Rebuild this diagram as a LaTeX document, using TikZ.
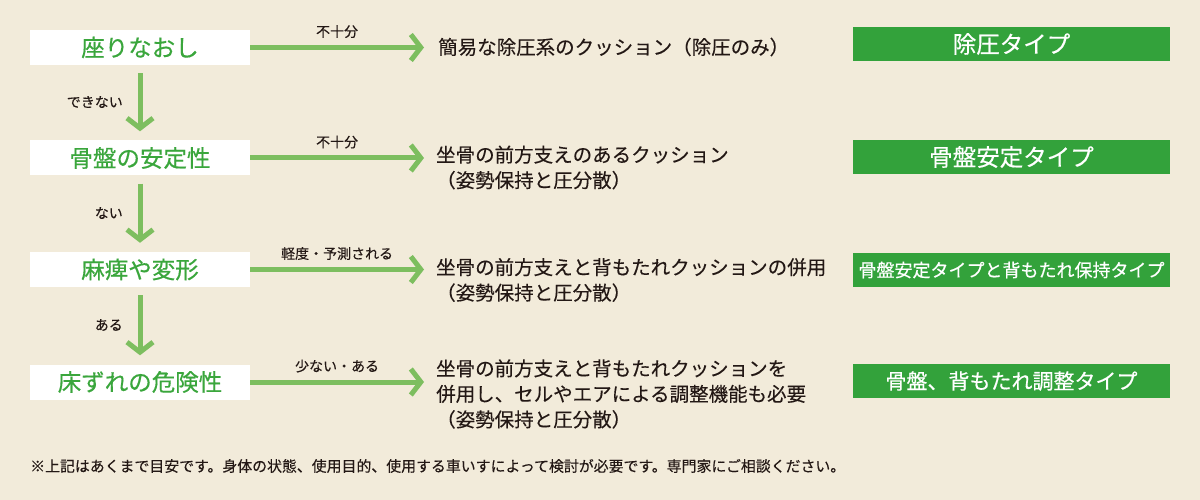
\documentclass[tikz,border=0pt]{standalone}
\usepackage{fontspec}
\setmainfont{Noto Sans CJK JP}
\newfontfamily\medfont{Noto Sans CJK JP}[UprightFeatures={FakeBold=0.5}]
\newfontfamily\semifont{Noto Sans CJK JP}[UprightFeatures={FakeBold=0.2}]
\usetikzlibrary{arrows.meta}
\definecolor{bg}{RGB}{242,235,218}
\definecolor{arrowgreen}{RGB}{125,190,95}
\definecolor{labelgreen}{RGB}{58,166,60}
\definecolor{boxgreen}{RGB}{51,162,59}
\definecolor{ink}{RGB}{35,24,21}
\tikzset{
  leftbox/.style={fill=white, minimum width=220pt, minimum height=35pt, inner sep=0pt,
    text=labelgreen, font=\medfont\fontsize{23.5}{26}\selectfont},
  typebox/.style={fill=boxgreen, minimum width=317pt, minimum height=34pt, inner sep=0pt,
    text=white, font=\medfont\fontsize{23.5}{26}\selectfont},
  midtext/.style={anchor=west, align=left, inner sep=0pt, text=ink,
    font=\semifont\fontsize{19.5}{25.5}\selectfont},
  arrlabel/.style={inner sep=0pt, text=ink, font=\semifont\fontsize{14}{16}\selectfont},
  flow/.style={draw=arrowgreen, line width=5pt,
    -{Straight Barb[length=10pt, width=26pt, line width=5pt]}},
}
\begin{document}
\begin{tikzpicture}[x=1pt, y=-1pt]
\fill[bg] (0,0) rectangle (1200,500);
\useasboundingbox (0,0) rectangle (1200,500);

% left boxes
\node[leftbox] (b1) at (140,47.5) {座りなおし};
\node[leftbox] (b2) at (140,158) {骨盤の安定性};
\node[leftbox] (b3) at (140,269.5) {麻痺や変形};
\node[leftbox] (b4) at (140,382) {床ずれの危険性};

% right type boxes
\node[typebox] (r1) at (1011.5,44) {除圧タイプ};
\node[typebox] (r2) at (1011.5,157) {骨盤安定タイプ};
\node[typebox, font=\medfont\fontsize{18}{20}\selectfont] (r3) at (1011.5,270) {骨盤安定タイプと背もたれ保持タイプ};
\node[typebox, font=\medfont\fontsize{21}{24}\selectfont] (r4) at (1011.5,381) {骨盤、背もたれ調整タイプ};

% middle texts
\node[midtext] (m1) at (438,47) {簡易な除圧系のクッション（除圧のみ）};
\node[midtext] (m2) at (436,167.5) {坐骨の前方支えのあるクッション\\（姿勢保持と圧分散）};
\node[midtext] (m3) at (436,280) {坐骨の前方支えと背もたれクッションの併用\\（姿勢保持と圧分散）};
\node[midtext] (m4) at (436,394) {坐骨の前方支えと背もたれクッションを\\併用し、セルやエアによる調整機能も必要\\（姿勢保持と圧分散）};

% arrow end points
\coordinate (e1) at (424,47.5);
\coordinate (e2) at (424,158);
\coordinate (e3) at (424,269.5);
\coordinate (e4) at (424,382);

% horizontal arrows
\draw[flow] (b1.east) -- node[arrlabel, above=7pt] (l1) {不十分} (e1);
\draw[flow] (b2.east) -- node[arrlabel, above=7pt] (l2) {不十分} (e2);
\draw[flow] (b3.east) -- node[arrlabel, above=7pt] (l3) {軽度・予測される} (e3);
\draw[flow] (b4.east) -- node[arrlabel, above=7pt] (l4) {少ない・ある} (e4);

% vertical arrows
\draw[flow, shorten <=8pt, shorten >=9pt] (b1.south) -- (b2.north);
\draw[flow, shorten <=8pt, shorten >=9pt] (b2.south) -- (b3.north);
\draw[flow, shorten <=8pt, shorten >=9pt] (b3.south) -- (b4.north);

\node[arrlabel, anchor=east] (v1) at (123,102) {できない};
\node[arrlabel, anchor=east] (v2) at (123,213) {ない};
\node[arrlabel, anchor=east] (v3) at (123,325) {ある};

% footnote
\node[anchor=west, inner sep=0pt, text=ink, font=\semifont\fontsize{14.9}{16}\selectfont] (fn) at (30,466)
  {※上記はあくまで目安です。身体の状態、使用目的、使用する車いすによって検討が必要です。専門家にご相談ください。};
\end{tikzpicture}
\end{document}
